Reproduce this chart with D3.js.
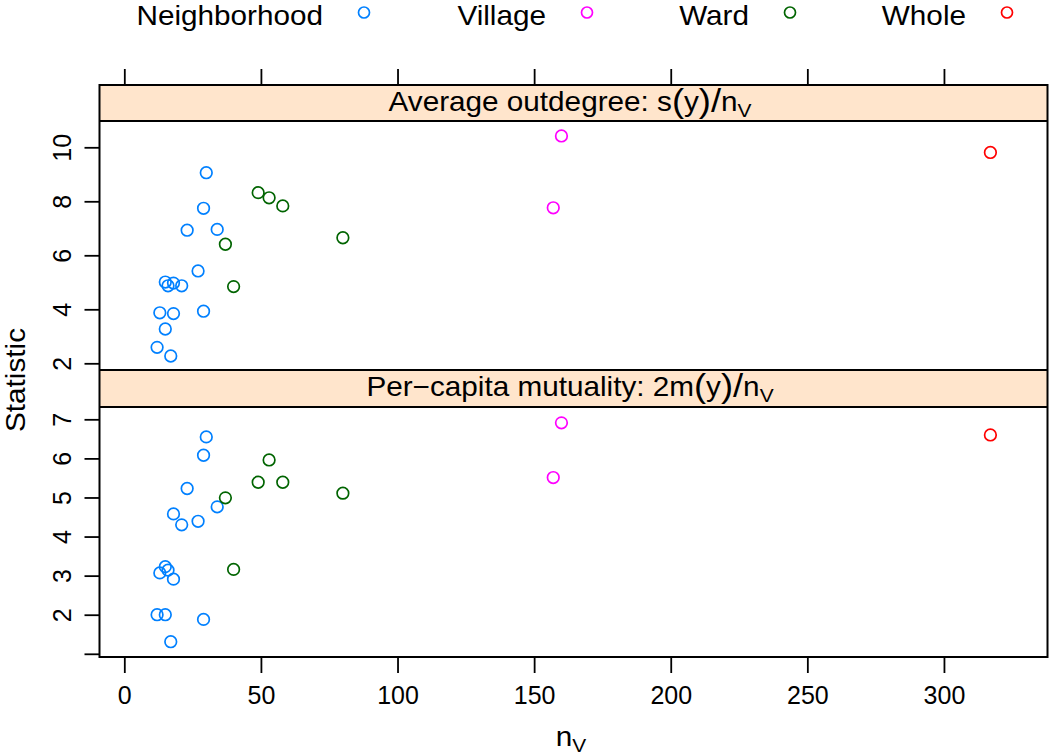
<!DOCTYPE html>
<html>
<head>
<meta charset="utf-8">
<script src="https://cdn.jsdelivr.net/npm/d3@7"></script>
<style>
  body { margin: 0; background: #fff; }
  svg { display: block; }
  text { font-family: "Liberation Sans", Arial, sans-serif; fill: #000; }
</style>
</head>
<body>
<svg id="chart" width="1050" height="756"></svg>
<script>
// ---- data ----
const groupNames = ["Neighborhood", "Village", "Ward", "Whole"];
const groupColors = ["#0080ff", "#ff00ff", "#006400", "#ff0000"];
const pointGroup = [
  "Neighborhood","Neighborhood","Neighborhood","Neighborhood","Neighborhood",
  "Neighborhood","Neighborhood","Neighborhood","Neighborhood","Neighborhood",
  "Neighborhood","Neighborhood","Neighborhood","Neighborhood","Neighborhood",
  "Village","Village",
  "Ward","Ward","Ward","Ward","Ward","Ward",
  "Whole"
];
const nV = [30, 29, 29, 23, 34, 27, 15, 15, 18, 18, 16, 21, 13, 12, 17,
            160, 157,
            49, 53, 58, 37, 80, 40,
            317];
const outdegree = [9.06, 7.74, 3.93, 6.93, 6.96, 5.42, 5.01, 3.27, 4.97, 3.84, 4.87, 4.87, 3.87, 2.59, 2.27,
                   10.42, 7.76,
                   8.32, 8.13, 7.83, 6.41, 6.65, 4.84,
                   9.81];
const mutuality = [6.55, 6.08, 1.88, 5.23, 4.76, 4.39, 3.23, 2.00, 4.58, 2.91, 3.14, 4.30, 3.07, 2.00, 1.31,
                   6.91, 5.51,
                   5.39, 5.96, 5.39, 4.99, 5.11, 3.16,
                   6.60];
const xTicks = [0, 50, 100, 150, 200, 250, 300];
const yTicksTop = [2, 4, 6, 8, 10];
const yTicksBottom = [1, 2, 3, 4, 5, 6, 7];
const yLabelsBottom = ["", "2", "3", "4", "5", "6", "7"];

// ---- layout ----
const svg = d3.select("#chart");
const L = 99.5, R = 1047.5;
const stripTop1 = 85, panelTop1 = 121, stripTop2 = 370, panelTop2 = 407, bottom = 657;
const stretch = 1.1;

const x = d3.scaleLinear().domain([-9.08, 337.9]).range([L, R]);
const y1 = d3.scaleLinear().domain([1.752, 10.974]).range([stripTop2, panelTop1]);
const y2 = d3.scaleLinear().domain([0.918, 7.315]).range([bottom, panelTop2]);
const color = d3.scaleOrdinal().domain(groupNames).range(groupColors);

// strips
[[stripTop1, panelTop1], [stripTop2, panelTop2]].forEach(([a, b]) => {
  svg.append("rect").attr("x", L).attr("y", a).attr("width", R - L).attr("height", b - a)
    .attr("fill", "#ffe5cc");
});

// strip labels (plotmath-like)
function stripLabel(cx, baseline, main, func) {
  const g = svg.append("g").attr("transform", `translate(${cx},${baseline}) scale(${stretch},1)`);
  const t = g.append("text").attr("text-anchor", "middle").attr("font-size", 27);
  t.append("tspan").text(main + func);
  t.append("tspan").attr("font-size", 33).attr("dy", 1).text("(");
  t.append("tspan").attr("font-size", 27).attr("dy", -1).text("y");
  t.append("tspan").attr("font-size", 33).attr("dy", 1).text(")");
  t.append("tspan").attr("font-size", 33).text("/");
  t.append("tspan").attr("font-size", 27).attr("dy", -1).text("n");
  t.append("tspan").attr("font-size", 19).attr("dy", 6).text("V");
}
stripLabel(570, 111, "Average outdegree: ", "s");
stripLabel(570, 396, "Per\u2212capita mutuality: ", "2m");

// points
function drawPoints(yScale, values) {
  svg.append("g").selectAll("circle")
    .data(nV.map((v, i) => ({ x: v, y: values[i], g: pointGroup[i] })))
    .join("circle")
    .attr("cx", d => x(d.x))
    .attr("cy", d => yScale(d.y))
    .attr("r", 5.8)
    .attr("fill", "none")
    .attr("stroke", d => color(d.g))
    .attr("stroke-width", 1.7);
}
drawPoints(y1, outdegree);
drawPoints(y2, mutuality);

// borders
const lineW = 2;
svg.append("rect").attr("x", L).attr("y", stripTop1).attr("width", R - L).attr("height", bottom - stripTop1)
  .attr("fill", "none").attr("stroke", "#000").attr("stroke-width", lineW);
[panelTop1, stripTop2, panelTop2].forEach(yy => {
  svg.append("line").attr("x1", L).attr("x2", R).attr("y1", yy).attr("y2", yy)
    .attr("stroke", "#000").attr("stroke-width", lineW);
});

function styleAxis(g) {
  g.select(".domain").remove();
  g.selectAll(".tick line").attr("stroke", "#000").attr("stroke-width", 1.8);
}

// bottom axis
svg.append("g").attr("transform", `translate(0,${bottom})`)
  .call(d3.axisBottom(x).tickValues(xTicks).tickSize(16).tickPadding(13).tickFormat(d3.format("d")))
  .call(styleAxis)
  .call(g => g.selectAll(".tick text").attr("font-size", 25).attr("font-family", "Liberation Sans, Arial, sans-serif"));

// top axis (ticks only)
svg.append("g").attr("transform", `translate(0,${stripTop1})`)
  .call(d3.axisTop(x).tickValues(xTicks).tickSize(16).tickFormat(""))
  .call(styleAxis);

// left axes
function leftAxis(scale, ticks, labels) {
  svg.append("g").attr("transform", `translate(${L},0)`)
    .call(d3.axisLeft(scale).tickValues(ticks).tickSize(15).tickFormat((d, i) => labels[i]))
    .call(styleAxis)
    .call(g => g.selectAll(".tick text")
      .attr("font-size", 25)
      .attr("font-family", "Liberation Sans, Arial, sans-serif")
      .attr("text-anchor", "middle")
      .attr("transform", "rotate(-90)")
      .attr("x", 0).attr("y", -28.5).attr("dy", 0));
}
leftAxis(y1, yTicksTop, yTicksTop.map(String));
leftAxis(y2, yTicksBottom, yLabelsBottom);

// axis titles
svg.append("g").attr("transform", `translate(24.5,380) rotate(-90) scale(${stretch},1)`)
  .append("text").attr("text-anchor", "middle").attr("font-size", 27).text("Statistic");

const xl = svg.append("g").attr("transform", `translate(571,746) scale(${stretch},1)`)
  .append("text").attr("text-anchor", "middle").attr("font-size", 27);
xl.append("tspan").text("n");
xl.append("tspan").attr("font-size", 19).attr("dy", 6).text("V");

// legend
const legendCircleX = [364, 587, 790, 1007];
const legend = svg.append("g");
groupNames.forEach((name, i) => {
  legend.append("g").attr("transform", `translate(${legendCircleX[i] - 41},24.5) scale(${stretch},1)`)
    .append("text").attr("text-anchor", "end").attr("font-size", 27).text(name);
  legend.append("circle").attr("cx", legendCircleX[i]).attr("cy", 12.5).attr("r", 5.5)
    .attr("fill", "none").attr("stroke", groupColors[i]).attr("stroke-width", 1.7);
});
</script>
</body>
</html>
